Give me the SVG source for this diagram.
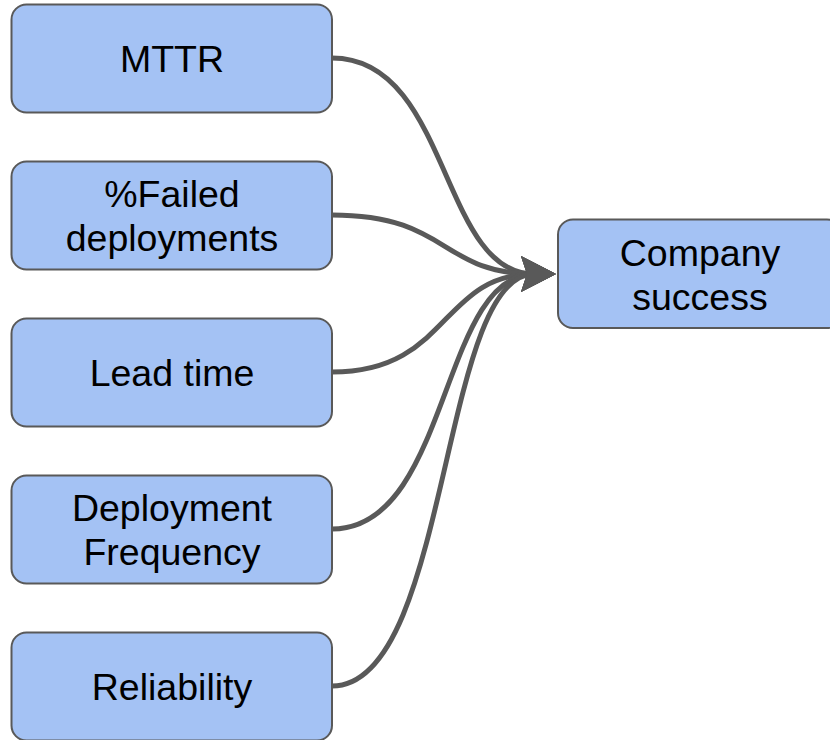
<svg xmlns="http://www.w3.org/2000/svg" width="830" height="740" viewBox="0 0 830 740">
<style>
.box{fill:#a4c2f4;stroke:#595959;stroke-width:2}
.lbl{font-family:"Liberation Sans",Arial,sans-serif;font-size:37.5px;fill:#000;text-anchor:middle}
.conn{fill:none;stroke:#595959;stroke-width:5;marker-end:url(#arr)}
</style>
<defs>
<marker id="arr" markerUnits="userSpaceOnUse" orient="0" markerWidth="40" markerHeight="40" refX="12" refY="20" viewBox="0 0 40 40" overflow="visible">
<path d="M34,20 L-1,2 L5,20 L-1,38 Z" fill="#595959"/>
</marker>
</defs>
<g id="connectors">
<path class="conn" d="M332,58 C450,58 440,274 534,274"/>
<path class="conn" d="M332,215 C450,215 440,274 534,274"/>
<path class="conn" d="M332,372 C450,372 440,274 534,274"/>
<path class="conn" d="M332,529 C450,529 440,274 534,274"/>
<path class="conn" d="M332,686 C450,686 440,274 534,274"/>
</g>
<g id="mttr">
<rect class="box" x="11.5" y="4.5" width="320.5" height="108" rx="15"/>
<text class="lbl" x="172" y="72">MTTR</text>
</g>
<g id="failed">
<rect class="box" x="11.5" y="161.5" width="320.5" height="108" rx="15"/>
<text class="lbl" x="172" y="206.5">%Failed</text>
<text class="lbl" x="172" y="250.5">deployments</text>
</g>
<g id="lead">
<rect class="box" x="11.5" y="318.5" width="320.5" height="108" rx="15"/>
<text class="lbl" x="172" y="386">Lead time</text>
</g>
<g id="freq">
<rect class="box" x="11.5" y="475.5" width="320.5" height="108" rx="15"/>
<text class="lbl" x="172" y="520.5">Deployment</text>
<text class="lbl" x="172" y="564.5">Frequency</text>
</g>
<g id="reliability">
<rect class="box" x="11.5" y="632.5" width="320.5" height="108" rx="15"/>
<text class="lbl" x="172" y="700">Reliability</text>
</g>
<g id="company">
<rect class="box" x="558" y="219.5" width="284" height="108.5" rx="15"/>
<text class="lbl" x="700" y="266">Company</text>
<text class="lbl" x="700" y="310">success</text>
</g>
</svg>
